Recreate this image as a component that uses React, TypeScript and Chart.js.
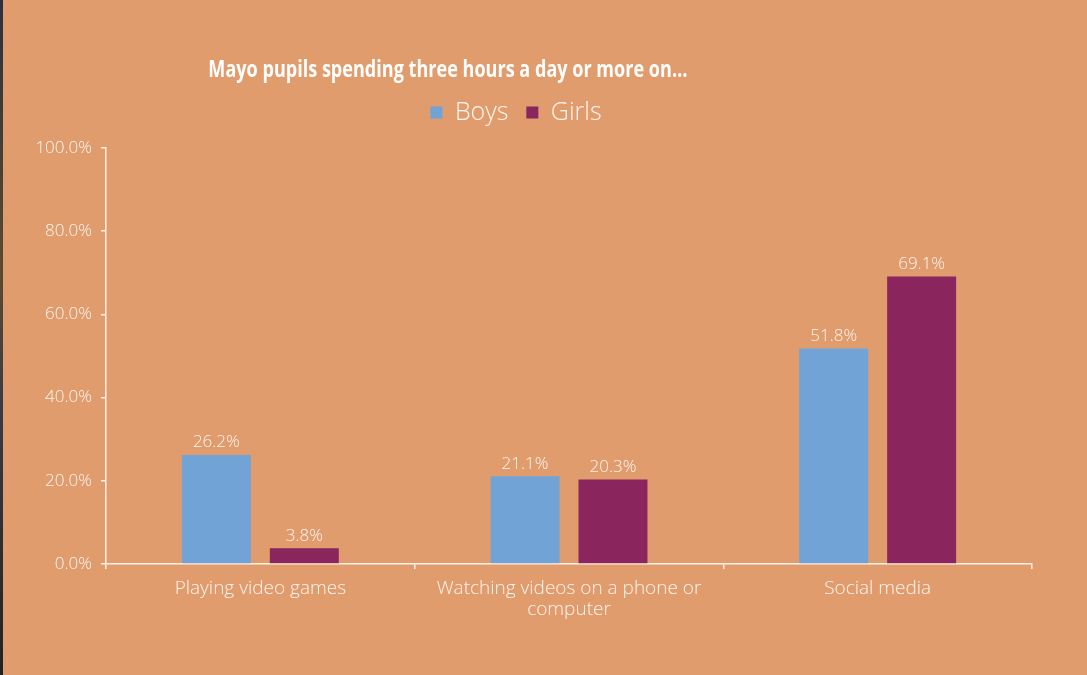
import React, { useEffect, useRef } from "react";
import { Chart, registerables } from "chart.js";

Chart.register(...registerables);

const categories: (string | string[])[] = [
  "Playing video games",
  ["Watching videos on a phone or", "computer"],
  "Social media",
];
const boys = [26.2, 21.1, 51.8];
const girls = [3.8, 20.3, 69.1];
const yTicks = [0, 20, 40, 60, 80, 100];
const titleText = "Mayo pupils spending three hours a day or more on…";

const BG = "#E09C6D";
const BLUE = "#71A3D7";
const PURPLE = "#8A255D";
const TEXT = "rgba(255,255,255,0.9)";
const AXIS = "rgba(255,246,238,0.95)";
const FONT = "'Open Sans', 'DejaVu Sans', sans-serif";

export default function App() {
  const ref = useRef<HTMLCanvasElement | null>(null);

  useEffect(() => {
    document.body.style.margin = "0";
    const canvas = ref.current!;
    const titlePlugin = {
      id: "customTitle",
      afterDraw(chart: any) {
        const ctx = chart.ctx;
        ctx.save();
        ctx.fillStyle = "#ffffff";
        ctx.font = `700 23px ${FONT}`;
        ctx.textAlign = "center";
        ctx.textBaseline = "alphabetic";
        const w = ctx.measureText(titleText).width;
        const target = 479;
        ctx.translate(chart.width * 0.412, 77);
        ctx.scale(Math.min(1, target / w), 1);
        ctx.fillText(titleText, 0, 0);
        ctx.restore();
      },
    };
    const labelPlugin = {
      id: "valueLabels",
      afterDatasetsDraw(chart: any) {
        const ctx = chart.ctx;
        ctx.save();
        ctx.fillStyle = TEXT;
        ctx.font = `300 17px ${FONT}`;
        ctx.textAlign = "center";
        ctx.textBaseline = "bottom";
        chart.data.datasets.forEach((ds: any, i: number) => {
          const meta = chart.getDatasetMeta(i);
          meta.data.forEach((bar: any, j: number) => {
            ctx.fillText(ds.data[j].toFixed(1) + "%", bar.x, bar.y - 4);
          });
        });
        ctx.restore();
      },
    };

    const chart = new Chart(canvas, {
      type: "bar",
      data: {
        labels: categories,
        datasets: [
          {
            label: "Boys",
            data: boys,
            backgroundColor: BLUE,
            categoryPercentage: 0.57,
            barPercentage: 0.784,
          },
          {
            label: "Girls",
            data: girls,
            backgroundColor: PURPLE,
            categoryPercentage: 0.57,
            barPercentage: 0.784,
          },
        ],
      },
      options: {
        responsive: false,
        animation: false,
        devicePixelRatio: 1,
        layout: { padding: { top: 82, right: 55, bottom: 0, left: 0 } },
        plugins: {
          title: { display: false },
          subtitle: {
            display: true,
            text: "",
            position: "top",
            weight: 500,
            font: { size: 10, lineHeight: 1.3 },
            padding: 0,
          },
          tooltip: { enabled: false },
          legend: {
            display: true,
            position: "top",
            labels: {
              color: TEXT,
              font: { family: FONT, size: 25, weight: "300" },
              boxWidth: 12,
              boxHeight: 12,
              padding: 18,
            },
          },
        },
        scales: {
          x: {
            afterFit(scale: any) {
              scale.height = 111;
            },
            grid: {
              display: true,
              drawOnChartArea: false,
              drawTicks: true,
              tickLength: 5,
              color: AXIS,
              lineWidth: 1.5,
              offset: true,
            },
            border: { display: true, color: AXIS, width: 1.5 },
            ticks: {
              color: TEXT,
              font: { family: FONT, size: 19, weight: "300", lineHeight: 1.1 },
              padding: 9,
              maxRotation: 0,
              autoSkip: false,
            },
          },
          y: {
            min: 0,
            max: 100,
            afterFit(scale: any) {
              scale.width = 106;
            },
            afterBuildTicks(scale: any) {
              scale.ticks = yTicks.map((v) => ({ value: v }));
            },
            grid: {
              display: true,
              drawOnChartArea: false,
              drawTicks: true,
              tickLength: 5,
              color: AXIS,
              lineWidth: 1.5,
            },
            border: { display: true, color: AXIS, width: 1.5 },
            ticks: {
              color: TEXT,
              font: { family: FONT, size: 17, weight: "300" },
              padding: 9,
              callback: (v: any) => Number(v).toFixed(1) + "%",
            },
          },
        },
      },
      plugins: [titlePlugin, labelPlugin],
    });
    return () => chart.destroy();
  }, []);

  return (
    <div
      style={{
        position: "fixed",
        left: 0,
        top: 0,
        width: 1087,
        height: 675,
        background: BG,
        overflow: "hidden",
      }}
    >
      <canvas ref={ref} width={1087} height={675} style={{ display: "block" }} />
      <div
        style={{
          position: "absolute",
          left: 0,
          top: 0,
          width: 3,
          height: 675,
          background: "linear-gradient(#2b3040, #5a4a30 40%, #3a3a48 60%, #222 100%)",
        }}
      />
    </div>
  );
}
